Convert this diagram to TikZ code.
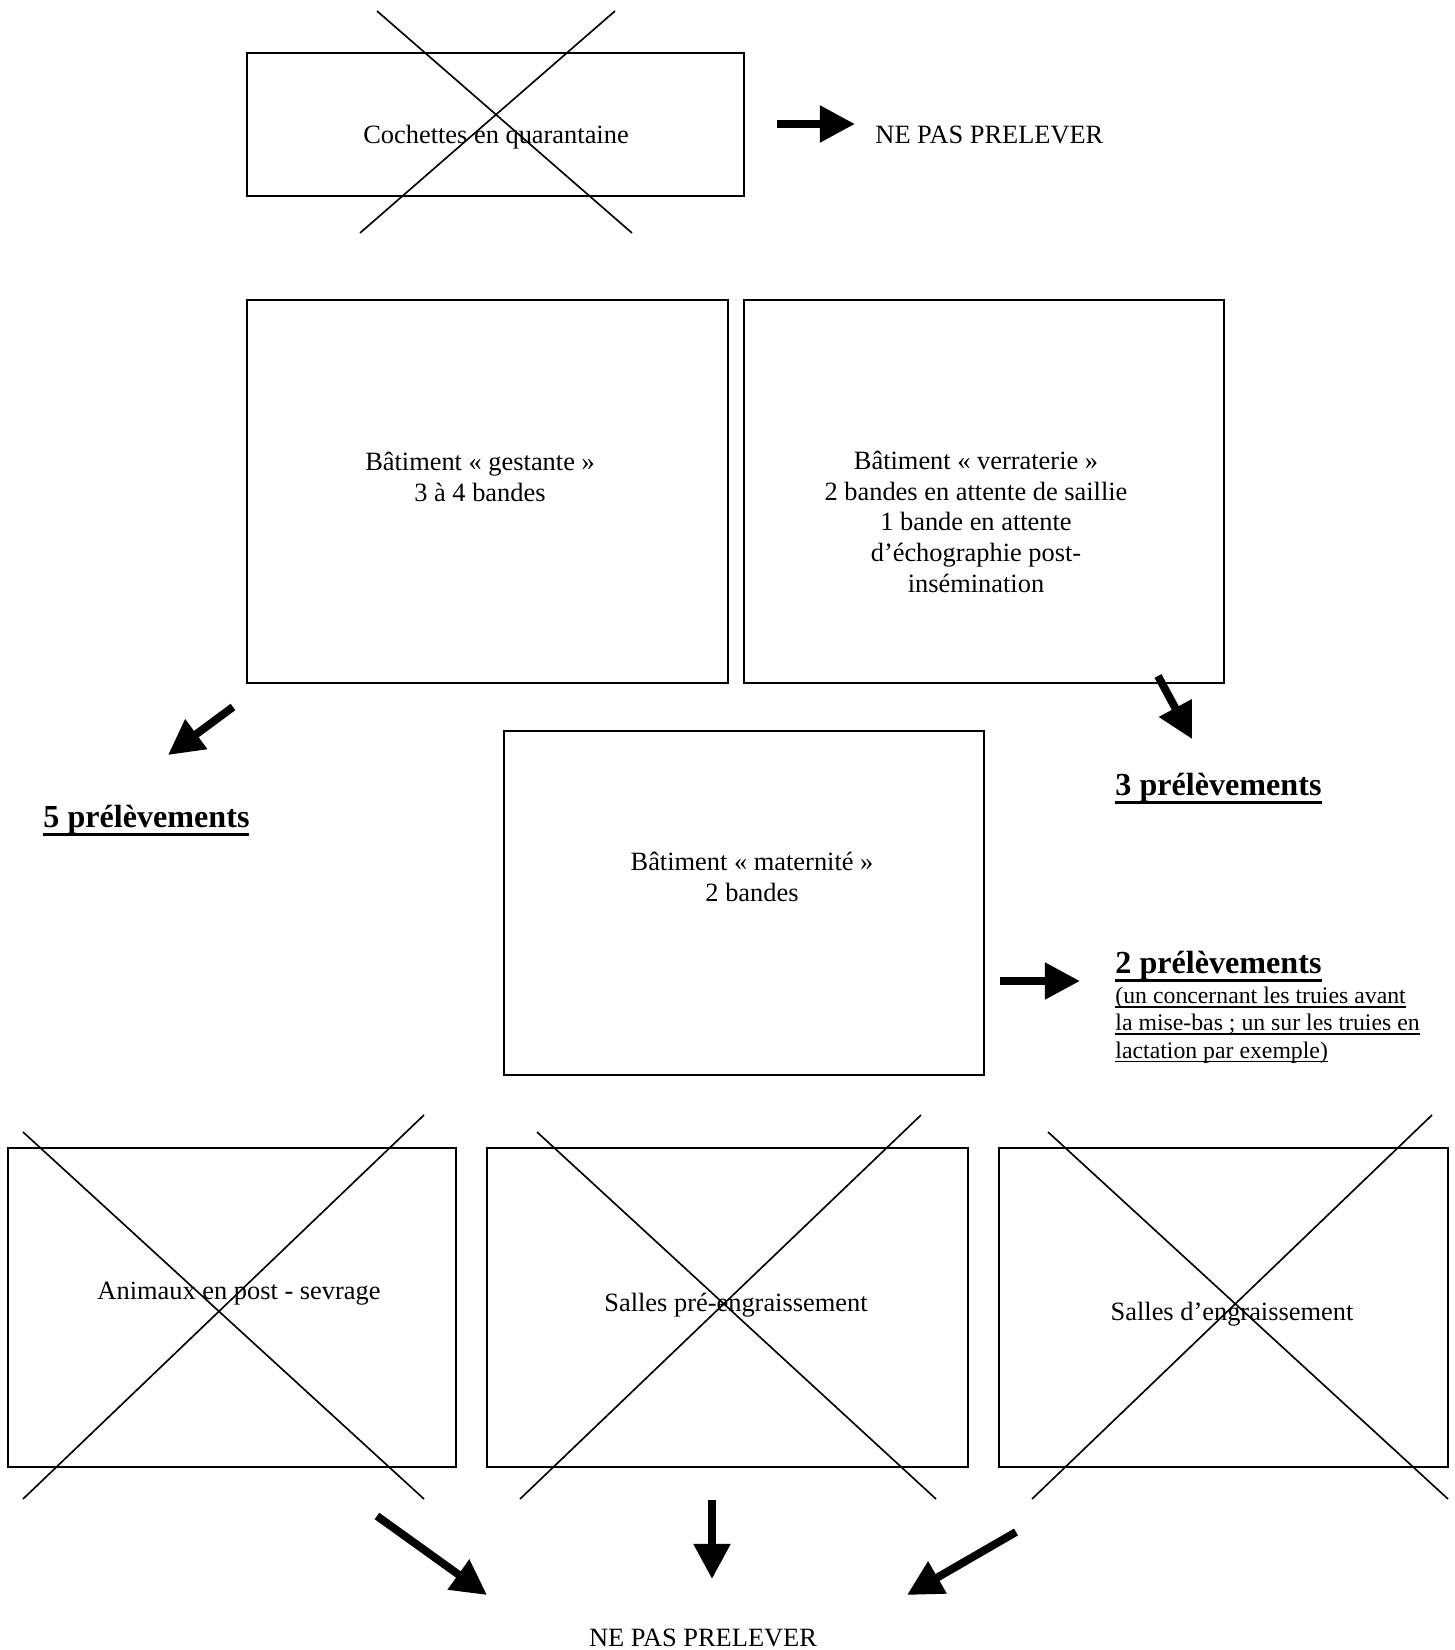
\documentclass[tikz,border=0pt]{standalone}
\usepackage{fontspec}
\setmainfont{Liberation Serif}
\usetikzlibrary{arrows.meta,fit}
\newsavebox{\myulbox}
\newcommand{\ulbig}[1]{\sbox{\myulbox}{#1}\rlap{\rule[-4pt]{\wd\myulbox}{1.5pt}}\usebox{\myulbox}}
\newcommand{\ulsmall}[1]{\sbox{\myulbox}{#1}\rlap{\rule[-1.7pt]{\wd\myulbox}{0.55pt}}\usebox{\myulbox}}
\begin{document}
\begin{tikzpicture}[x=0.4545pt,y=-0.4545pt,
  box/.style={draw, line width=0.9pt, rectangle, inner sep=0pt},
  cross/.style={line width=0.75pt},
  txt/.style={font=\fontsize{12}{13.9}\selectfont, anchor=base, align=center, inner sep=0pt},
  big/.style={font=\bfseries\fontsize{14.6}{17}\selectfont, anchor=base west, inner sep=0pt},
  small/.style={font=\fontsize{10.8}{12.3}\selectfont, anchor=base west, align=left, inner sep=0pt},
  blk/.style={line width=3.6pt, -{Triangle[length=16pt,width=16pt]}}]
\fill[white] (0,0) rectangle (1455,1650);
\useasboundingbox (0,0) rectangle (1455,1650);

% boxes
\node[box, fit={(247,53) (744,196)}] (coch) {};
\node[box, fit={(247,300) (728,683)}] (gest) {};
\node[box, fit={(744,300) (1224,683)}] (verr) {};
\node[box, fit={(504,731) (984,1075)}] (mater) {};
\node[box, fit={(8,1148) (456,1467)}] (post) {};
\node[box, fit={(487,1148) (968,1467)}] (pre) {};
\node[box, fit={(999,1148) (1448,1467)}] (engr) {};

% texts in boxes (multi-line nodes: base = last line's baseline)
\node[txt] (cochT) at (496,143) {Cochettes en quarantaine};
\node[txt] (gestT) at (480,501) {B\^atiment « gestante »\\3 \`a 4 bandes};
\node[txt] (verrT) at (976,592) {B\^atiment « verraterie »\\2 bandes en attente de saillie\\1 bande en attente\\d’\'echographie post-\\ins\'emination};
\node[txt] (materT) at (752,901) {B\^atiment « maternit\'e »\\2 bandes};
\node[txt] (postT) at (239,1299) {Animaux en post - sevrage};
\node[txt] (preT) at (736,1311) {Salles pr\'e-engraissement};
\node[txt] (engrT) at (1232,1320) {Salles d’engraissement};

% crosses
\draw[cross] (377,11) -- (632,233);
\draw[cross] (615,11) -- (360,233);
\draw[cross] (23,1132) -- (424,1499);
\draw[cross] (424,1115) -- (23,1499);
\draw[cross] (537,1132) -- (936,1499);
\draw[cross] (921,1115) -- (520,1499);
\draw[cross] (1048,1132) -- (1448,1499);
\draw[cross] (1432,1115) -- (1032,1499);

% labels
\node[txt, anchor=base west] (np1) at (875,143) {NE PAS PRELEVER};
\node[big] (p5) at (43,827) {\ulbig{5 pr\'el\`evements}};
\node[big] (p3) at (1115,795) {\ulbig{3 pr\'el\`evements}};
\node[big] (p2) at (1115,973) {\ulbig{2 pr\'el\`evements}};
\node[small] (p2n) at (1115,1058) {\ulsmall{(un concernant les truies avant}\\\ulsmall{la mise-bas ; un sur les truies en}\\\ulsmall{lactation par exemple)}};
\node[txt] (np2) at (703,1646) {NE PAS PRELEVER};

% arrows
\coordinate (a1s) at (777,124); \coordinate (a1e) at (855,124);
\coordinate (a2s) at (233,707); \coordinate (a2e) at (168,755);
\coordinate (a3s) at (1158,676); \coordinate (a3e) at (1192,739);
\coordinate (a4s) at (1000,981); \coordinate (a4e) at (1080,981);
\coordinate (a5s) at (377,1516); \coordinate (a5e) at (487,1595);
\coordinate (a6s) at (712,1500); \coordinate (a6e) at (712,1579);
\coordinate (a7s) at (1016,1532); \coordinate (a7e) at (907,1595);
\draw[blk] (a1s) -- (a1e);
\draw[blk] (a2s) -- (a2e);
\draw[blk] (a3s) -- (a3e);
\draw[blk] (a4s) -- (a4e);
\draw[blk] (a5s) -- (a5e);
\draw[blk] (a6s) -- (a6e);
\draw[blk] (a7s) -- (a7e);
\end{tikzpicture}
\end{document}
